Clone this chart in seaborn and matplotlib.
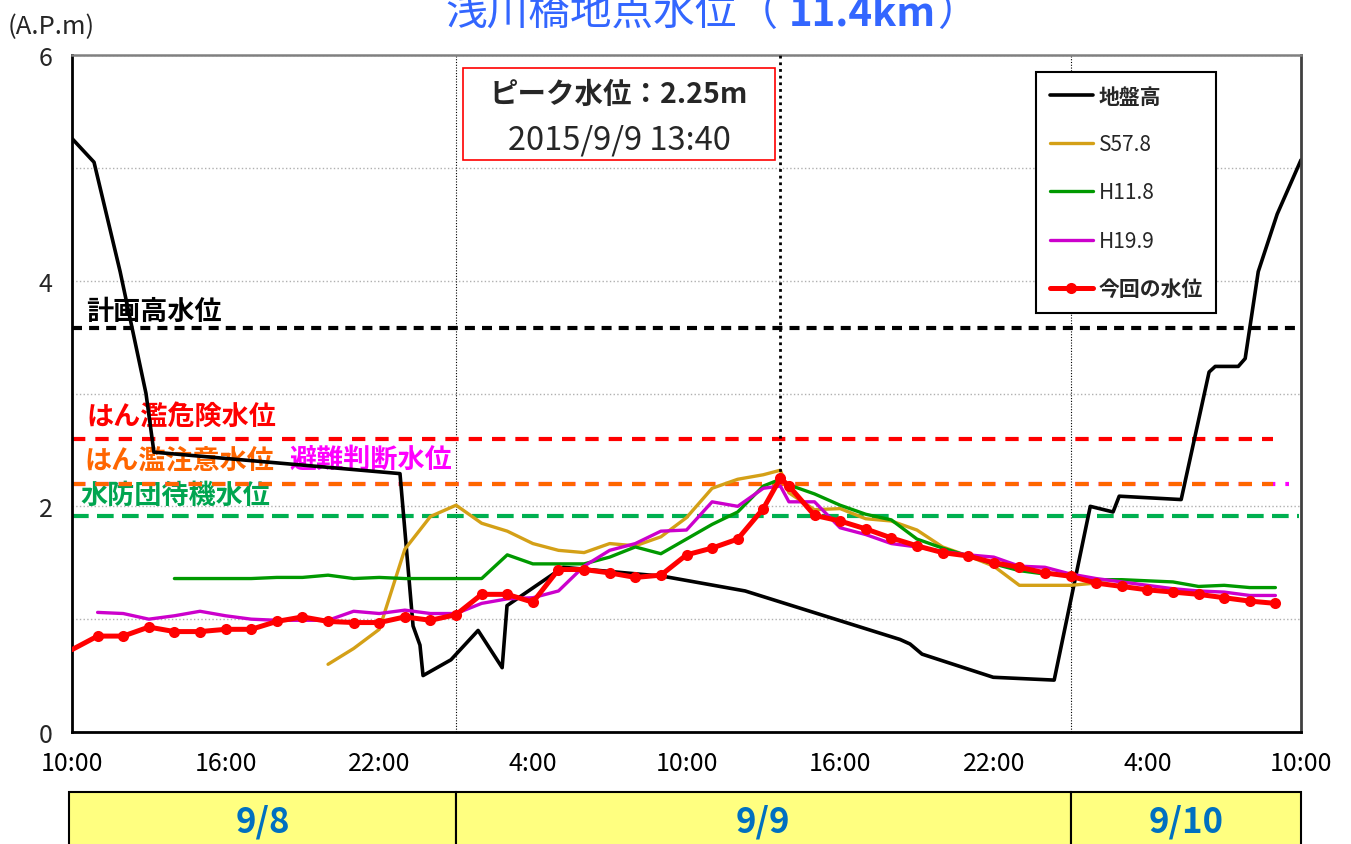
import matplotlib
matplotlib.use("Agg")
import matplotlib.pyplot as plt
import matplotlib.transforms as mtransforms
from matplotlib.patches import Rectangle
import pandas as pd
import seaborn as sns

sns.set_style("white")
plt.rcParams["font.family"] = ["Noto Sans CJK JP", "DejaVu Sans"]

# ===========================
# データ (時刻は 9/8 0:00 からの経過時間[h])
# ===========================
PEAK_T = 37 + 40 / 60  # 9/9 13:40

cur_hours = list(range(10, 38)) + [PEAK_T] + list(range(38, 58))
cur_level = [0.73, 0.85, 0.85, 0.93, 0.89, 0.89, 0.91, 0.91, 0.98, 1.02,
             0.98, 0.97, 0.97, 1.02, 0.99, 1.04, 1.22, 1.22, 1.15, 1.44,
             1.44, 1.41, 1.37, 1.39, 1.57, 1.63, 1.71, 1.98,
             2.25,
             2.18, 1.92, 1.87, 1.80, 1.72, 1.65, 1.59, 1.56, 1.50, 1.46,
             1.41, 1.38, 1.32, 1.29, 1.26, 1.24, 1.22, 1.19, 1.16, 1.14]

h19_hours = list(range(11, 38)) + [PEAK_T] + list(range(38, 58))
h19_level = [1.06, 1.05, 1.00, 1.03, 1.07, 1.03, 1.00, 0.99, 0.99, 0.99,
             1.07, 1.05, 1.08, 1.05, 1.05,
             1.14, 1.18, 1.19, 1.25, 1.47, 1.61, 1.67, 1.78, 1.79, 2.04,
             2.00, 2.16,
             2.18,
             2.04, 2.04, 1.81, 1.75, 1.67, 1.64, 1.60, 1.57, 1.55, 1.47,
             1.46, 1.40, 1.36, 1.33, 1.30, 1.27, 1.25, 1.24, 1.21, 1.21]

h11_hours = list(range(14, 38)) + [PEAK_T] + list(range(38, 58))
h11_level = [1.36, 1.36, 1.36, 1.36, 1.37, 1.37, 1.39, 1.36, 1.37, 1.36,
             1.36, 1.36,
             1.36, 1.57, 1.49, 1.49, 1.49, 1.55, 1.64, 1.58, 1.71, 1.84,
             1.95, 2.18,
             2.24,
             2.19, 2.11, 2.01, 1.93, 1.88, 1.71, 1.63, 1.56, 1.49, 1.43,
             1.40, 1.39, 1.35, 1.35, 1.34, 1.33, 1.29, 1.30, 1.28, 1.28]

s57_hours = list(range(20, 38)) + [PEAK_T] + list(range(38, 51))
s57_level = [0.60, 0.74, 0.91, 1.62, 1.91, 2.01, 1.85, 1.78, 1.67, 1.61,
             1.59, 1.67, 1.65, 1.73, 1.90, 2.16, 2.24, 2.28,
             2.32,
             2.12, 1.97, 1.98, 1.89, 1.87, 1.79, 1.64, 1.56, 1.47, 1.30,
             1.30, 1.30, 1.32]

# 地盤高 (横断形状)
ground_x = [10.00, 10.86, 11.88, 12.89, 13.20, 22.81, 23.32, 23.59, 23.71,
            24.80, 25.86, 26.80, 26.99, 29.18, 33.09, 36.29, 42.34, 42.73,
            43.20, 45.98, 48.36, 49.77, 50.66, 50.90, 53.32, 54.41, 54.65,
            55.55, 55.82, 56.33, 57.07, 58.00]
ground_z = [5.26, 5.05, 4.08, 3.00, 2.48, 2.29, 0.94, 0.77, 0.50,
            0.64, 0.90, 0.57, 1.12, 1.46, 1.38, 1.25, 0.82, 0.78,
            0.69, 0.485, 0.46, 2.00, 1.95, 2.09, 2.06, 3.19, 3.24,
            3.24, 3.31, 4.08, 4.59, 5.07]

level_names = ["計画高水位", "はん濫危険水位", "はん濫注意水位", "避難判断水位", "水防団待機水位"]
level_values = [3.58, 2.60, 2.20, 2.20, 1.91]

day_labels = ["9/8", "9/9", "9/10"]
day_edges = [9.88, 25, 49, 58]

# ===========================
# 図
# ===========================
W, H = 1351, 845
fig = plt.figure(figsize=(W / 100, H / 100), dpi=100)
ax = fig.add_axes([72 / W, 1 - 733 / H, (1301 - 72) / W, (733 - 56) / H])

def ax_pt(px, py):
    return (px - 72) / 1229, (733 - py) / 677

# 基準水位
lv_style = [
    dict(color="black", lw=3, ls=(0, (2.4, 1.7)), xmax=1.0),
    dict(color="#ff0000", lw=3, ls=(0, (3.2, 2.4)), xmax=0.977),
    dict(color="#ff6600", lw=3, ls=(0, (3.2, 2.4)), xmax=0.977),
    dict(color="#ff00ff", lw=3, ls=(0, (3.2, 2.4)), xmax=0.99),
    dict(color="#00b050", lw=3, ls=(0, (4.0, 2.0)), xmax=0.998),
]
lv_z = [1.6, 1.6, 1.7, 1.5, 1.6]
for val, st, z in zip(level_values, lv_style, lv_z):
    ax.axhline(val, xmin=0, xmax=st["xmax"], color=st["color"], lw=st["lw"],
               linestyle=st["ls"], zorder=z)

lv_text_pos = [(86, 312), (86, 417), (84, 460), (289, 460), (80, 496)]
lv_text_col = ["black", "#ff0000", "#ff6600", "#ff00ff", "#00a550"]
for name, (px, py), col in zip(level_names, lv_text_pos, lv_text_col):
    tx, ty = ax_pt(px, py)
    ax.text(tx, ty, name, transform=ax.transAxes, color=col, fontsize=19.5,
            fontweight="bold", va="center", ha="left", zorder=1)

# 系列
ground = pd.DataFrame({"x": ground_x, "z": ground_z})
sns.lineplot(data=ground, x="x", y="z", ax=ax, color="black", lw=2.6,
             sort=False, estimator=None, label="地盤高", zorder=2)

series = [
    (s57_hours, s57_level, "S57.8", "#d4a017"),
    (h11_hours, h11_level, "H11.8", "#009900"),
    (h19_hours, h19_level, "H19.9", "#cc00cc"),
]
for hrs, lvl, name, col in series:
    df = pd.DataFrame({"t": hrs, "level": lvl})
    sns.lineplot(data=df, x="t", y="level", ax=ax, color=col, lw=2.4,
                 sort=False, estimator=None, label=name, zorder=3)

cur = pd.DataFrame({"t": cur_hours, "level": cur_level})
sns.lineplot(data=cur, x="t", y="level", ax=ax, color="#ff0000", lw=3.6,
             marker="o", markersize=8, markeredgewidth=0,
             markevery=list(range(1, len(cur_hours))),
             sort=False, estimator=None, label="今回の水位", zorder=4)

# 日付境界とピーク時刻
for t in day_edges[1:3]:
    ax.axvline(t, color="black", lw=0.8, ls=(0, (1, 1.5)), zorder=1.4)
peak_val = max(cur_level)
ax.vlines(PEAK_T, peak_val, 6, color="black", lw=2.0, linestyles=[(0, (1, 1.4))],
          zorder=3.5)

# 軸
ax.set_xlim(10, 58)
ax.set_ylim(0, 6)
ax.set_xticks(list(range(10, 59, 6)))
ax.set_xticklabels([f"{h % 24}:00" for h in range(10, 59, 6)])
ax.set_xticks(list(range(13, 58, 6)), minor=True)
ax.set_yticks([0, 2, 4, 6])
ax.set_yticks([1, 3, 5], minor=True)
ax.tick_params(axis="x", which="both", direction="in", length=6, width=1.5,
               labelsize=18, pad=13, colors="black")
ax.tick_params(axis="y", which="major", direction="in", length=6, width=1.5,
               labelsize=18, pad=14)
ax.tick_params(axis="y", which="minor", length=0)
ax.grid(axis="y", which="both", color="#b0b0b0", ls=":", lw=1)
ax.set_axisbelow(True)
ax.set_xlabel("")
ax.set_ylabel("")
for side, col, w in [("left", "black", 2), ("bottom", "black", 2),
                     ("top", "#808080", 1.8), ("right", "#404040", 2)]:
    ax.spines[side].set_color(col)
    ax.spines[side].set_linewidth(w)

leg = ax.legend(loc="upper left", bbox_to_anchor=ax_pt(1036, 73), borderaxespad=0,
                fontsize=15, frameon=True, fancybox=False, framealpha=1,
                edgecolor="black", handlelength=2.1, handletextpad=0.25,
                labelspacing=1.27, borderpad=0.65)
leg.get_frame().set_linewidth(1.5)
leg.set_zorder(10)
for txt in leg.get_texts():
    txt.set_fontweight("bold" if any(ord(c) > 255 for c in txt.get_text()) else "normal")

# ピーク水位ボックス
fig.patches.append(Rectangle((463 / W, 1 - 161 / H), (775 - 463) / W, 92 / H,
                             transform=fig.transFigure, facecolor="white",
                             edgecolor="#ff0000", lw=1.2, zorder=5))
fig.text(619 / W, 1 - 95 / H, f"ピーク水位：{peak_val:.2f}m", ha="center", va="center",
         fontsize=20.5, fontweight="bold", zorder=6)
fig.text(619 / W, 1 - 140 / H, "2015/9/9 13:40", ha="center", va="center",
         fontsize=23.5, zorder=6)

# タイトル (数字部分のみ太字)
t1 = fig.text(445 / W, 1 - 25 / H, "浅川橋地点水位（", color="#3366ff", fontsize=30,
              ha="left", va="baseline")
t2 = fig.text(789 / W, 1 - 25 / H, "11.4km", color="#3366ff", fontsize=29,
              fontweight="bold", ha="left", va="baseline")
fig.canvas.draw()
bb = t2.get_window_extent()
fig.text(bb.x1 / W + 1 / W, 1 - 25 / H, "）", color="#3366ff", fontsize=30,
         ha="left", va="baseline")
fig.text(8 / W, 1 - 34 / H, "(A.P.m)", fontsize=18.5, ha="left", va="baseline")

# 日付帯
blend = mtransforms.blended_transform_factory(ax.transData, fig.transFigure)
for lab, x0, x1 in zip(day_labels, day_edges[:-1], day_edges[1:]):
    fig.patches.append(Rectangle((x0, 1 - 850 / H), x1 - x0, 57 / H,
                                 transform=blend, facecolor="#ffff80",
                                 edgecolor="black", lw=1.5, clip_on=False))
    fig.text((x0 + x1) / 2, 1 - 822 / H, lab, transform=blend, color="#0070c0",
             fontsize=25, fontweight="bold", ha="center", va="center")

fig.savefig("out.png", dpi=100)
